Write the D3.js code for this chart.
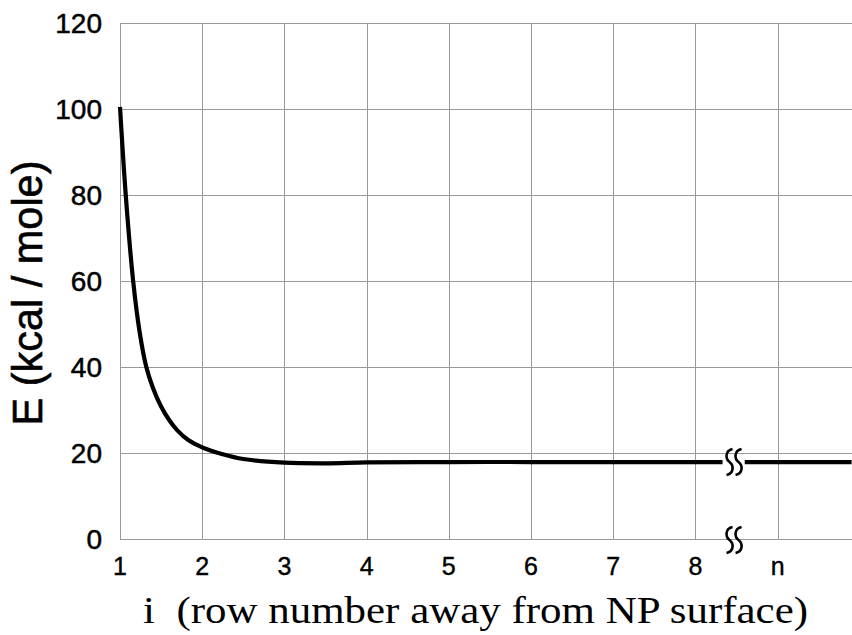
<!DOCTYPE html>
<html>
<head>
<meta charset="utf-8">
<script src="https://cdn.jsdelivr.net/npm/d3@7"></script>
<style>
  body { margin: 0; background: #fff; }
  svg { display: block; }
</style>
</head>
<body>
<svg width="852" height="635"></svg>
<script>
// data
const rowIndex = [1, 1.07, 1.16, 1.24, 1.32, 1.4, 1.5, 1.6, 1.7, 1.83, 2, 2.25, 2.5, 3, 3.5, 4, 5, 6, 7, 8, 8.33];
const energy   = [100.5, 80, 60, 48, 40, 35.2, 30.8, 27.6, 25.2, 23, 21.3, 19.7, 18.6, 17.75, 17.6, 17.8, 17.9, 17.9, 17.9, 17.9, 17.9];
// after the axis break (n)
const rowIndexTail = [8.6, 9, 9.9];
const energyTail   = [17.9, 17.9, 17.9];

const xTicks = [1, 2, 3, 4, 5, 6, 7, 8, 9];
const xTickLabels = ['1', '2', '3', '4', '5', '6', '7', '8', 'n'];
const yTicks = [0, 20, 40, 60, 80, 100, 120];
const breakAt = 8.47;

const svg = d3.select('svg');
const x = d3.scaleLinear().domain([1, 9.9]).range([120, 851.6]);
const y = d3.scaleLinear().domain([0, 120]).range([539, 23]);

const grid = svg.append('g').attr('stroke', '#999').attr('stroke-width', 1);
// horizontal grid
grid.selectAll('line.h').data(yTicks).join('line')
  .attr('x1', x(1)).attr('x2', 852)
  .attr('y1', d => y(d) + 0.5).attr('y2', d => y(d) + 0.5);
// vertical grid
grid.selectAll('line.v').data(xTicks).join('line')
  .attr('x1', d => Math.round(x(d)) + 0.5).attr('x2', d => Math.round(x(d)) + 0.5)
  .attr('y1', y(120)).attr('y2', y(0));

// tick labels
svg.append('g').selectAll('text').data(yTicks).join('text')
  .attr('x', 102).attr('y', d => y(d)).attr('dy', '0.36em')
  .attr('text-anchor', 'end')
  .attr('font-family', 'Liberation Sans, Arial, sans-serif')
  .attr('font-size', 28)
  .attr('stroke', '#000').attr('stroke-width', 0.5)
  .text(d => d);

svg.append('g').selectAll('text').data(xTicks).join('text')
  .attr('x', d => x(d)).attr('y', 575)
  .attr('text-anchor', 'middle')
  .attr('font-family', 'Liberation Sans, Arial, sans-serif')
  .attr('font-size', 25)
  .attr('stroke', '#000').attr('stroke-width', 0.4)
  .text((d, i) => xTickLabels[i]);

// curve
const line = d3.line()
  .x(d => x(d[0]))
  .y(d => y(d[1]))
  .curve(d3.curveCatmullRom.alpha(0.5));

svg.append('path')
  .attr('d', line(d3.zip(rowIndex, energy)))
  .attr('fill', 'none').attr('stroke', '#000').attr('stroke-width', 4.2);
svg.append('path')
  .attr('d', line(d3.zip(rowIndexTail, energyTail)))
  .attr('fill', 'none').attr('stroke', '#000').attr('stroke-width', 4.2);

// break marks
const squiggle = 'M3,-13 C-5,-11 -4,-3 0,0 C4,3 5,11 -3,13';
function drawBreak(cx, cy) {
  const g = svg.append('g').attr('transform', `translate(${cx},${cy})`);
  [-4.5, 4.5].forEach(off => {
    g.append('path').attr('d', squiggle)
      .attr('transform', `translate(${off},0)`)
      .attr('fill', 'none').attr('stroke', '#000').attr('stroke-width', 2.6);
  });
}
drawBreak(x(breakAt), y(17.9));
drawBreak(x(breakAt), 540);

// axis titles
svg.append('text')
  .attr('transform', 'translate(42,293) rotate(-90)')
  .attr('text-anchor', 'middle')
  .attr('font-family', 'Liberation Sans, Arial, sans-serif')
  .attr('font-size', 42)
  .attr('stroke', '#000').attr('stroke-width', 0.6)
  .attr('textLength', 265).attr('lengthAdjust', 'spacingAndGlyphs')
  .text('E (kcal / mole)');

svg.append('text')
  .attr('x', 143).attr('y', 623)
  .attr('font-family', 'Liberation Serif, Times New Roman, serif')
  .attr('font-size', 38)
  .attr('textLength', 665).attr('lengthAdjust', 'spacingAndGlyphs')
  .attr('xml:space', 'preserve')
  .style('white-space', 'pre')
  .text('i  (row number away from NP surface)');
</script>
</body>
</html>
